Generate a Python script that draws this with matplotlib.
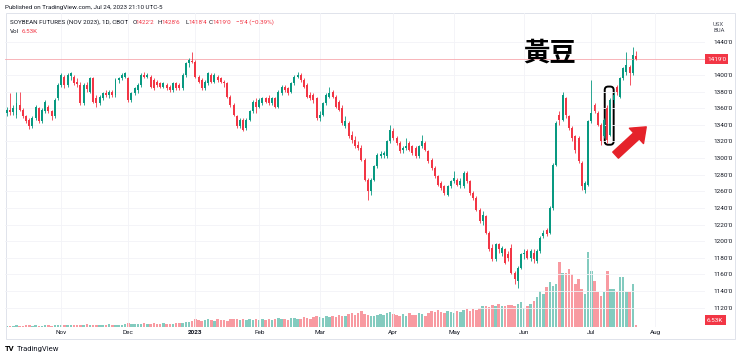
import matplotlib
matplotlib.use("Agg")
import matplotlib.pyplot as plt
from matplotlib.patches import FancyBboxPatch, FancyArrowPatch, Rectangle
import numpy as np
import pandas as pd

plt.rcParams['font.family'] = ['Roboto', 'Noto Sans CJK TC', 'DejaVu Sans']

# CBOT trading days, Oct 7 2022 .. Jul 24 2023
holidays = ['2022-11-24', '2022-12-26', '2023-01-02', '2023-01-16', '2023-02-20',
            '2023-04-07', '2023-05-29', '2023-06-19', '2023-07-04']
dates = pd.bdate_range('2022-10-07', '2023-07-24')
dates = dates[~dates.isin(pd.to_datetime(holidays))]

# daily OHLC, soybean Nov 2023 (cents/bu), one line per month
opens = [
    1354, 1358, 1355, 1352, 1364, 1358, 1350, 1346, 1338, 1348, 1360, 1344, 1356, 1362, 1356, 1350, 1372,
    1388, 1398, 1388, 1399, 1398, 1392, 1388, 1366, 1388, 1380, 1396, 1372, 1366, 1372, 1378, 1376, 1380, 1376, 1394, 1396, 1398,
    1396, 1370, 1378, 1382, 1388, 1400, 1398, 1398, 1394, 1392, 1390, 1386, 1388, 1386, 1382, 1390, 1388, 1384, 1400, 1414, 1417,
    1416, 1398, 1394, 1384, 1390, 1400, 1392, 1398, 1396, 1392, 1390, 1374, 1364, 1350, 1338, 1346, 1336, 1346, 1356, 1368,
    1362, 1366, 1372, 1372, 1366, 1372, 1362, 1378, 1386, 1384, 1380, 1390, 1398, 1400, 1394, 1388, 1376, 1376, 1372,
    1348, 1352, 1366, 1374, 1380, 1374, 1368, 1360, 1338, 1342, 1328, 1322, 1316, 1312, 1298, 1274, 1260, 1274, 1290, 1302, 1304, 1302, 1320,
    1332, 1324, 1318, 1310, 1312, 1318, 1314, 1312, 1302, 1314, 1318, 1308, 1298, 1288, 1278, 1270, 1266, 1256, 1266,
    1272, 1274, 1268, 1266, 1282, 1272, 1258, 1252, 1238, 1224, 1230, 1210, 1192, 1178, 1196, 1186, 1190, 1184, 1192, 1162, 1152, 1168,
    1184, 1188, 1180, 1186, 1176, 1188, 1206, 1213, 1210, 1240, 1292, 1352, 1346, 1372, 1350, 1336, 1326, 1324, 1294, 1262, 1268,
    1344, 1364, 1354, 1340, 1326, 1360, 1328, 1370, 1386, 1374, 1396, 1404, 1410, 1402, 1422.25,
]
highs = [
    1362, 1378, 1364, 1380, 1380, 1360, 1352, 1348, 1350, 1364, 1362, 1360, 1370, 1364, 1358, 1372, 1390,
    1402, 1400, 1402, 1404, 1400, 1396, 1392, 1390, 1392, 1398, 1398, 1376, 1376, 1380, 1382, 1382, 1382, 1396, 1398, 1402, 1404,
    1398, 1380, 1386, 1390, 1402, 1403, 1402, 1400, 1396, 1394, 1392, 1392, 1390, 1388, 1392, 1392, 1390, 1402, 1416, 1420, 1428,
    1418, 1400, 1396, 1394, 1404, 1402, 1402, 1400, 1398, 1394, 1392, 1376, 1366, 1352, 1348, 1348, 1348, 1358, 1370, 1372,
    1372, 1374, 1374, 1376, 1374, 1374, 1382, 1388, 1388, 1386, 1392, 1400, 1403, 1402, 1396, 1390, 1380, 1378, 1374,
    1356, 1368, 1378, 1386, 1382, 1376, 1370, 1364, 1350, 1344, 1332, 1326, 1320, 1316, 1300, 1276, 1276, 1292, 1306, 1308, 1308, 1322, 1340,
    1336, 1326, 1320, 1314, 1324, 1320, 1316, 1314, 1316, 1328, 1320, 1310, 1300, 1290, 1280, 1272, 1268, 1268, 1274,
    1284, 1276, 1276, 1284, 1284, 1274, 1260, 1254, 1240, 1236, 1232, 1212, 1196, 1198, 1198, 1194, 1192, 1188, 1196, 1164, 1170, 1186,
    1190, 1190, 1190, 1190, 1190, 1206, 1214, 1216, 1242, 1294, 1344, 1356, 1380, 1374, 1352, 1338, 1328, 1326, 1296, 1272, 1346,
    1394, 1366, 1356, 1342, 1348, 1364, 1372, 1380, 1388, 1398, 1410, 1428, 1412, 1434, 1428.75,
]
lows = [
    1350, 1352, 1352, 1348, 1356, 1348, 1342, 1335, 1336, 1346, 1342, 1342, 1354, 1354, 1346, 1348, 1370,
    1386, 1384, 1386, 1394, 1388, 1386, 1364, 1364, 1380, 1378, 1366, 1362, 1364, 1370, 1374, 1372, 1374, 1374, 1390, 1394, 1396,
    1368, 1368, 1376, 1378, 1386, 1396, 1396, 1384, 1382, 1386, 1384, 1384, 1382, 1380, 1380, 1382, 1382, 1382, 1398, 1410, 1414,
    1396, 1390, 1382, 1382, 1388, 1390, 1390, 1392, 1390, 1386, 1372, 1362, 1350, 1336, 1336, 1332, 1334, 1344, 1354, 1354,
    1360, 1364, 1366, 1364, 1364, 1360, 1360, 1376, 1380, 1376, 1378, 1388, 1396, 1392, 1384, 1372, 1370, 1366, 1346,
    1344, 1350, 1364, 1372, 1372, 1360, 1356, 1340, 1336, 1324, 1318, 1312, 1310, 1296, 1272, 1250, 1256, 1272, 1288, 1300, 1300, 1300, 1318,
    1322, 1316, 1306, 1306, 1310, 1308, 1304, 1300, 1300, 1312, 1308, 1294, 1286, 1276, 1266, 1262, 1256, 1254, 1264,
    1270, 1266, 1264, 1264, 1270, 1256, 1250, 1236, 1222, 1220, 1208, 1188, 1176, 1176, 1186, 1182, 1172, 1176, 1160, 1148, 1144, 1166,
    1178, 1178, 1176, 1174, 1174, 1186, 1204, 1206, 1208, 1238, 1290, 1340, 1344, 1348, 1334, 1320, 1306, 1294, 1262, 1258, 1266,
    1342, 1354, 1338, 1316, 1324, 1318, 1326, 1366, 1376, 1372, 1394, 1400, 1388, 1400, 1418.5,
]
closes = [
    1358, 1355, 1360, 1366, 1358, 1350, 1345, 1338, 1348, 1362, 1344, 1358, 1368, 1356, 1350, 1370, 1388,
    1400, 1388, 1400, 1402, 1390, 1389, 1366, 1388, 1383, 1396, 1368, 1366, 1374, 1378, 1376, 1380, 1376, 1394, 1396, 1400, 1402,
    1370, 1378, 1384, 1388, 1400, 1398, 1400, 1386, 1384, 1388, 1386, 1390, 1384, 1382, 1390, 1384, 1384, 1400, 1414, 1418, 1416,
    1398, 1392, 1384, 1392, 1402, 1392, 1400, 1394, 1392, 1390, 1374, 1364, 1352, 1338, 1346, 1334, 1346, 1356, 1368, 1362,
    1370, 1372, 1368, 1366, 1372, 1362, 1380, 1386, 1382, 1378, 1390, 1398, 1400, 1394, 1386, 1374, 1372, 1370, 1348,
    1352, 1366, 1376, 1378, 1374, 1362, 1358, 1342, 1344, 1326, 1322, 1314, 1312, 1298, 1274, 1260, 1274, 1290, 1304, 1305, 1306, 1320, 1334,
    1324, 1318, 1308, 1312, 1314, 1310, 1306, 1302, 1314, 1320, 1310, 1296, 1288, 1278, 1268, 1264, 1258, 1266, 1272,
    1276, 1268, 1272, 1282, 1272, 1258, 1252, 1238, 1224, 1232, 1210, 1190, 1178, 1196, 1190, 1192, 1174, 1180, 1162, 1154, 1168, 1184,
    1186, 1180, 1188, 1178, 1188, 1204, 1210, 1209, 1240, 1292, 1342, 1346, 1376, 1352, 1336, 1324, 1310, 1296, 1266, 1270, 1344,
    1354, 1356, 1340, 1320, 1346, 1322, 1370, 1376, 1380, 1396, 1408, 1412, 1402, 1424, 1419,
]
# volume in thousands of contracts
volumes = [
    3, 4, 3, 5, 4, 3, 5, 6, 4, 5, 3, 4, 6, 5, 4, 5, 6,
    6, 5, 7, 6, 5, 8, 7, 6, 9, 6, 5, 7, 8, 6, 7, 9, 8, 7, 6, 8, 9,
    12, 9, 10, 11, 9, 12, 10, 11, 13, 9, 10, 12, 11, 10, 9, 13, 12, 14, 16, 18, 20,
    26, 22, 20, 24, 27, 23, 21, 25, 22, 24, 20, 26, 28, 25, 23, 27, 24, 26, 22, 25,
    24, 27, 23, 26, 22, 28, 30, 25, 27, 24, 29, 31, 26, 28, 33, 30, 27, 32, 35,
    33, 30, 36, 34, 38, 32, 40, 37, 35, 42, 45, 39, 48, 52, 44, 41, 38, 36, 40, 43, 39, 46, 50,
    44, 40, 38, 42, 36, 45, 39, 41, 47, 43, 38, 46, 52, 49, 55, 51, 48, 53, 50,
    47, 52, 49, 55, 58, 54, 60, 57, 62, 68, 70, 66, 73, 68, 75, 71, 69, 74, 72, 70, 76, 82,
    62, 70, 75, 86, 100, 118, 109, 132, 148, 136, 141, 214, 180, 180, 191, 175, 141, 158, 125, 109, 250,
    185, 152, 115, 103, 115, 185, 125, 125, 115, 165, 165, 115, 115, 141, 6.53,
]

month_labels = ['Nov', 'Dec', '2023', 'Feb', 'Mar', 'Apr', 'May', 'Jun', 'Jul', 'Aug']
price_ticks = [1440, 1400, 1380, 1360, 1340, 1320, 1300, 1280, 1260, 1240,
               1220, 1200, 1180, 1160, 1140, 1120]
last_price = 1419

UP = '#089981'
DOWN = '#f23645'
TXT = '#131722'

o = np.array(opens, dtype=float)
h = np.array(highs, dtype=float)
l = np.array(lows, dtype=float)
c = np.array(closes, dtype=float)
v = np.array(volumes, dtype=float)
x = np.arange(len(dates))
assert len(o) == len(h) == len(l) == len(c) == len(v) == len(dates)

# month start positions (Aug lies in the empty space to the right)
month_pos = [int(np.argmax((dates.year == y) & (dates.month == m)))
             for y, m in [(2022, 11), (2022, 12), (2023, 1), (2023, 2), (2023, 3),
                          (2023, 4), (2023, 5), (2023, 6), (2023, 7)]]
month_pos.append(len(dates) + len(pd.bdate_range('2023-07-25', '2023-07-31')))

W, H = 740, 358
fig = plt.figure(figsize=(W / 100, H / 100), dpi=100)
fig.patch.set_facecolor('white')

ax = fig.add_axes([5 / W, (H - 327) / H, 700 / W, 314 / H])
ax2 = ax.twinx()
ax.set_zorder(ax2.get_zorder() + 1)
ax.patch.set_visible(False)

# volume
up = c >= o
vcol = np.where(up, UP, DOWN)
ax2.bar(x, v, width=0.78, color=vcol, alpha=0.5, linewidth=0)
ax2.set_ylim(0, 1040)
ax2.set_yticks([])
for s in ax2.spines.values():
    s.set_visible(False)

# candles
ax.vlines(x, l, h, colors=vcol, linewidth=0.6)
body = np.maximum(np.abs(c - o), 0.8)
ax.bar(x, body, bottom=np.minimum(o, c), width=0.62, color=vcol, linewidth=0)

ax.set_xlim(-0.6, 218.6)
ax.set_ylim(1096.7, 1474.5)

ax.yaxis.tick_right()
ax.set_yticks(price_ticks)
ax.set_yticklabels([f"{p}'0" for p in price_ticks])
ax.set_xticks(month_pos)
ax.set_xticklabels(month_labels)
ax.tick_params(axis='y', length=0, pad=6, labelsize=4.6, labelcolor=TXT)
ax.tick_params(axis='x', length=0, pad=2.5, labelsize=4.6, labelcolor=TXT)
ax.get_xticklabels()[2].set_fontweight('bold')
ax.grid(True, color='#f2f3f7', linewidth=0.6)
ax.set_axisbelow(True)
for s in ax.spines.values():
    s.set_visible(False)

# last price line and labels
ax.axhline(last_price, color='#f7a8ae', linewidth=0.6, zorder=1)
ax.text(1.003, last_price, "1419'0", transform=ax.get_yaxis_transform(), ha='left', va='center',
        color='white', fontsize=4.6, bbox=dict(boxstyle='square,pad=0.35', fc=DOWN, ec='none'))
ax.text(1.003, 0.022, "6.53K", transform=ax.transAxes, ha='left', va='center',
        color='white', fontsize=4.6, bbox=dict(boxstyle='square,pad=0.35', fc=DOWN, ec='none'))

# annotation: rounded box around the two candles, red arrow
x0, y0 = ax.transData.transform((187.2, 1316))
x1, y1 = ax.transData.transform((190.0, 1386))
fig.add_artist(FancyBboxPatch((x0, y0), x1 - x0, y1 - y0, boxstyle='round,pad=0,rounding_size=3.5',
                              transform=None, fill=False, ec='black', lw=1.4))
ax.add_patch(FancyArrowPatch((190.6, 1303.5), (200.2, 1337.5), transform=ax.transData,
                             arrowstyle='simple,head_length=0.8,head_width=1.25,tail_width=0.5',
                             mutation_scale=12, color='#e5222a', shrinkA=0, shrinkB=0, zorder=5))


def ftext(px, py, s, **kw):
    fig.text(px / W, 1 - py / H, s, va='center', **kw)


ftext(550, 53, '黃豆', ha='center', fontsize=19, fontweight='bold', color='black',
      family=['Noto Sans CJK TC'])

# header
ftext(5, 7.5, 'Published on TradingView.com, Jul 24, 2023 21:10 UTC-5', fontsize=4.5, color=TXT)
ftext(10, 22.5, 'SOYBEAN FUTURES (NOV 2023), 1D, CBOT', fontsize=4.5, color=TXT)
for px, s, col in [(132.5, 'O', TXT), (136, "1422'2", DOWN), (158, 'H', TXT), (161.5, "1428'6", DOWN),
                   (185.5, 'L', TXT), (188.5, "1418'4", DOWN), (209, 'C', TXT), (212.5, "1419'0", DOWN),
                   (236.5, "\u22125'4 (\u22120.39%)", DOWN)]:
    ftext(px, 22.5, s, fontsize=4.5, color=col)
ftext(10, 31.5, 'Vol', fontsize=4.5, color=TXT)
ftext(22, 31.5, '6.53K', fontsize=4.5, color=DOWN)
ftext(713, 24, 'USX', fontsize=4.3, color='#50535e')
ftext(713, 31, 'BUA', fontsize=4.3, color='#50535e')

# frame and footer
fig.add_artist(Rectangle((6 / W, 1 - 339 / H), 729 / W, 326 / H, transform=fig.transFigure,
                         fill=False, ec='#e0e3eb', lw=0.7))
ftext(5, 348.5, 'TV', fontsize=5.5, fontweight='bold', color='black')
ftext(17, 348.5, 'TradingView', fontsize=5.5, color=TXT)

fig.savefig('out.png', dpi=100)
